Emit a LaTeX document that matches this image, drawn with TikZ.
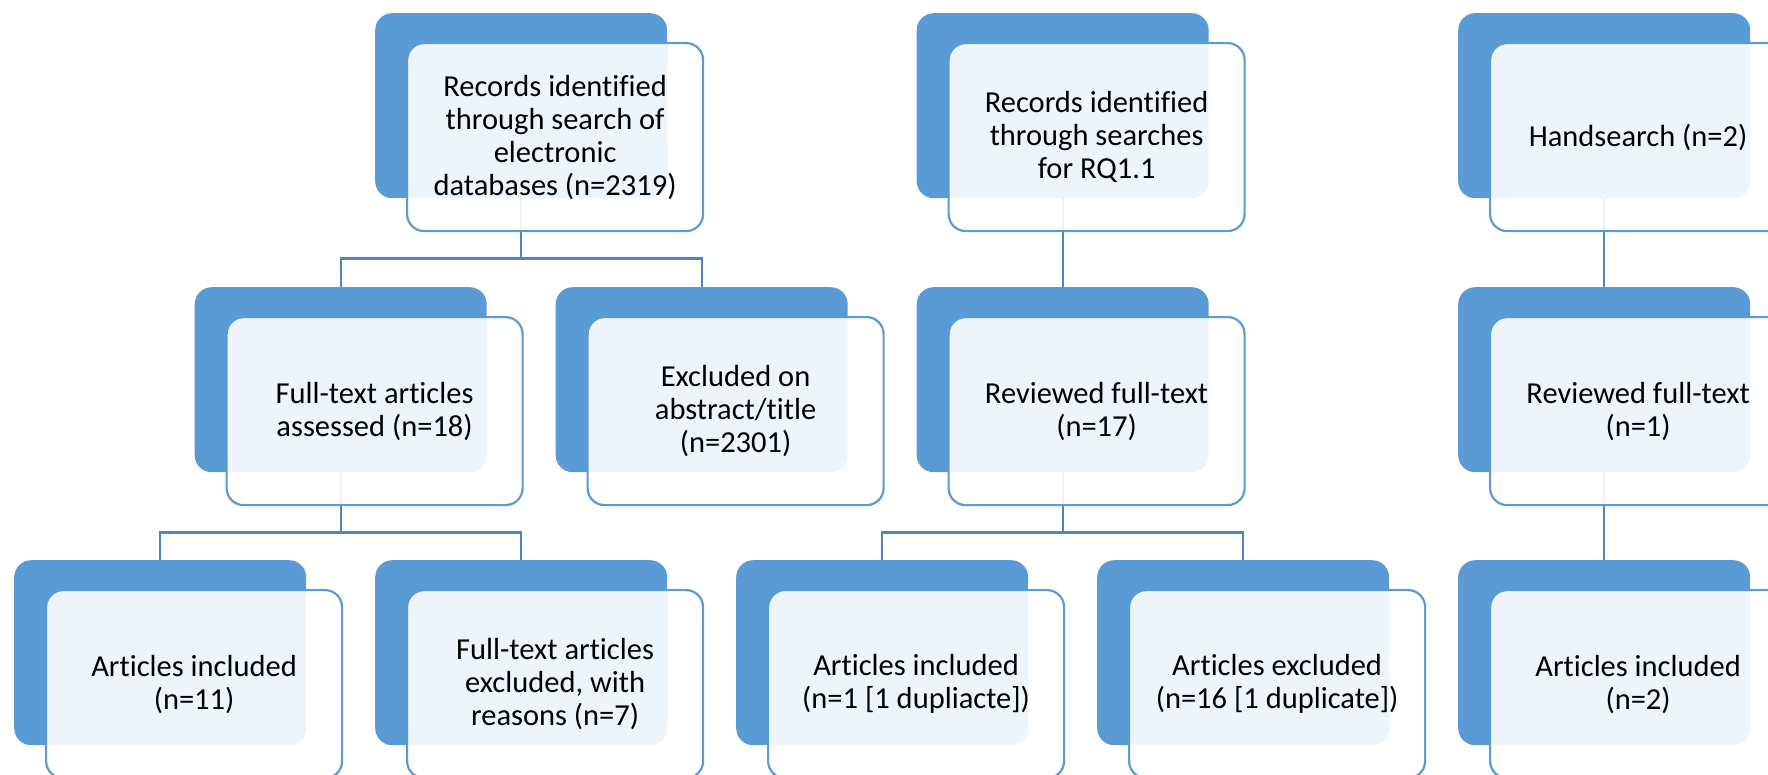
\documentclass[tikz,border=0pt]{standalone}
\usepackage{fontspec}
\setmainfont{Carlito}[Ligatures=CommonOff]
\definecolor{dk}{HTML}{5B9BD5}
\definecolor{ln}{HTML}{4F86C0}
\begin{document}
\begin{tikzpicture}[x=1pt,y=-1pt,
 dark/.style={draw=none, fill=dk, rounded corners=17pt, minimum width=292pt, minimum height=185pt, anchor=north west, inner sep=0pt},
 light/.style={draw=dk, line width=2.2pt, fill=white, fill opacity=0.9, text opacity=1, rounded corners=17pt, minimum width=296pt, minimum height=188pt, anchor=north west, align=center, inner sep=0pt, font=\fontsize{30.5pt}{33pt}\selectfont},
 conn/.style={draw=ln, line width=2.2pt}]
\clip (0,0) rectangle (1768,774);
\fill[white] (0,0) rectangle (1768,774);
% dark back boxes
\node[dark] (d1) at (375,13) {};
\node[dark] (d2) at (194.5,287) {};
\node[dark] (d3) at (555.5,287) {};
\node[dark] (d4) at (14,560) {};
\node[dark] (d5) at (375,560) {};
\node[dark] (d6) at (916.5,13) {};
\node[dark] (d7) at (916.5,287) {};
\node[dark] (d8) at (736,560) {};
\node[dark] (d9) at (1097,560) {};
\node[dark] (d10) at (1458,13) {};
\node[dark] (d11) at (1458,287) {};
\node[dark] (d12) at (1458,560) {};
% connectors
\draw[conn] (d1.south) -- ++(0,60) -| (d2.north);
\draw[conn] (d1.south) -- ++(0,60) -| (d3.north);
\draw[conn] (d2.south) -- ++(0,60) -| (d4.north);
\draw[conn] (d2.south) -- ++(0,60) -| (d5.north);
\draw[conn] (d6.south) -- (d7.north);
\draw[conn] (d7.south) -- ++(0,60) -| (d8.north);
\draw[conn] (d7.south) -- ++(0,60) -| (d9.north);
\draw[conn] (d10.south) -- (d11.north);
\draw[conn] (d11.south) -- (d12.north);
% light front boxes
\node[light] (l1) at (406,42) {Records identified\\through search of\\electronic\\databases (n=2319)};
\node[light] (l2) at (225.5,316) {Full-text articles\\assessed (n=18)};
\node[light] (l3) at (586.5,316) {Excluded on\\abstract/title\\(n=2301)};
\node[light] (l4) at (45,589) {Articles included\\(n=11)};
\node[light] (l5) at (406,589) {Full-text articles\\excluded, with\\reasons (n=7)};
\node[light] (l6) at (947.5,42) {Records identified\\through searches\\for RQ1.1};
\node[light] (l7) at (947.5,316) {Reviewed full-text\\(n=17)};
\node[light] (l8) at (767,589) {Articles included\\(n=1 [1 dupliacte])};
\node[light] (l9) at (1128,589) {Articles excluded\\(n=16 [1 duplicate])};
\node[light] (l10) at (1489,42) {Handsearch (n=2)};
\node[light] (l11) at (1489,316) {Reviewed full-text\\(n=1)};
\node[light] (l12) at (1489,589) {Articles included\\(n=2)};
\end{tikzpicture}
\end{document}
